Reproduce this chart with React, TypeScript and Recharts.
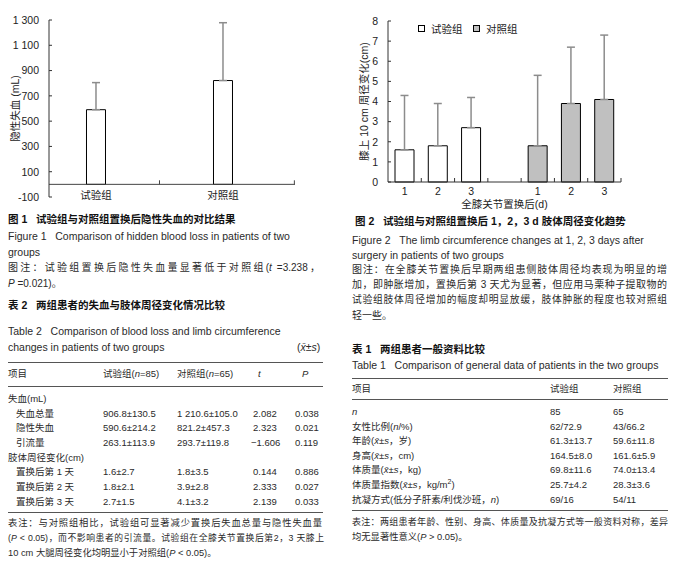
import React from 'react';
import { BarChart, Bar, XAxis, YAxis, ErrorBar, ReferenceLine, Cell, Legend } from 'recharts';

const FONT = '"Liberation Sans", Arial, "Noto Sans CJK SC", sans-serif';

// 图1 隐性失血
const fig1Groups = ['试验组', '对照组'];
const fig1Hidden = [590.6, 821.2];
const fig1Sd = [214.2, 457.3];
const fig1Ticks = [-100, 100, 300, 500, 700, 900, 1100, 1300];

// 图2 周径变化
const fig2Days = ['1', '2', '3'];
const fig2Test = [1.6, 1.8, 2.7];
const fig2TestSd = [2.7, 2.1, 1.5];
const fig2Ctrl = [1.8, 3.9, 4.1];
const fig2CtrlSd = [3.5, 2.8, 3.2];
const fig2Ticks = [0, 1, 2, 3, 4, 5, 6, 7, 8];
const fig2Legend = [
  { name: '试验组', fill: '#ffffff' },
  { name: '对照组', fill: '#c0c0c0' },
];

const fig1Data = fig1Groups.map((name, i) => ({
  pos: i + 1,
  name,
  value: fig1Hidden[i],
  err: [0, fig1Sd[i]],
}));

const fig2Data = [
  ...fig2Days.map((d, i) => ({ key: `t${d}`, day: d, value: fig2Test[i], err: [0, fig2TestSd[i]], group: 0 })),
  { key: 'gap', day: '', value: null, err: null, group: -1 },
  ...fig2Days.map((d, i) => ({ key: `c${d}`, day: d, value: fig2Ctrl[i], err: [0, fig2CtrlSd[i]], group: 1 })),
];

const fmtThousand = (v: number) =>
  Math.abs(v) >= 1000 ? `${Math.floor(v / 1000)} ${String(v % 1000).padStart(3, '0')}` : String(v);

const YTick = (props: any) => {
  const { x, y, payload, fmt } = props;
  return (
    <g>
      <line x1={x} x2={x + 3} y1={y} y2={y} stroke="#333" />
      <text x={x - 10} y={y} dy={3.8} textAnchor="end" fontSize={10.5} fill="#222" fontFamily={FONT}>
        {fmt ? fmt(payload.value) : payload.value}
      </text>
    </g>
  );
};

const Fig1XTick = (props: any) => {
  const { x, y, payload } = props;
  return (
    <text x={x} y={y} dy={2} textAnchor="middle" fontSize={10.5} fill="#222" fontFamily={FONT}>
      {fig1Groups[payload.value - 1]}
    </text>
  );
};

const FIG2_HALF_BAND = 233 / fig2Data.length / 2;
const Fig2XTick = (props: any) => {
  const { x, y, payload } = props;
  const row = fig2Data.find((r) => r.key === payload.value);
  return (
    <g>
      <line x1={x + FIG2_HALF_BAND} x2={x + FIG2_HALF_BAND} y1={y} y2={y - 4} stroke="#333" />
      <text x={x} y={y} dy={13} textAnchor="middle" fontSize={10.5} fill="#222" fontFamily={FONT}>
        {row ? row.day : ''}
      </text>
    </g>
  );
};

const Fig2LegendContent = () => (
  <div style={{ position: 'relative', height: 14, width: 120, fontSize: 10.5, fontFamily: FONT, color: '#222' }}>
    {fig2Legend.map((l, i) => (
      <div
        key={l.name}
        style={{ position: 'absolute', left: i * 55, top: 0, height: 14, display: 'flex', alignItems: 'center', whiteSpace: 'nowrap' }}
      >
        <span style={{ display: 'inline-block', width: 5, height: 5, border: '1px solid #000', background: l.fill, marginRight: 6 }} />
        {l.name}
      </div>
    ))}
  </div>
);

const Line = ({ x, y, w, size = 10.5, bold, justify, children }: any) => (
  <div
    style={{
      position: 'absolute',
      left: x,
      top: y - 7,
      width: w,
      height: 14,
      lineHeight: '14px',
      fontSize: size,
      fontWeight: bold ? 'bold' : 'normal',
      whiteSpace: justify ? 'normal' : 'nowrap',
      textAlign: justify ? 'justify' : 'left',
      textAlignLast: justify ? 'justify' : 'auto',
      color: bold ? '#111' : '#2a2a2a',
    }}
  >
    {children}
  </div>
);

const Rule = ({ x, y, w }: any) => (
  <div style={{ position: 'absolute', left: x, top: y, width: w, height: 0, borderTop: '1px solid #555' }} />
);

const xbar = <i>x&#772;</i>;

// 表2
const t2Cols = [103, 177, 253, 295];
const t2Rows: { label: string; indent: boolean; cells: string[] }[] = [
  { label: '失血(mL)', indent: false, cells: [] },
  { label: '失血总量', indent: true, cells: ['906.8±130.5', '1 210.6±105.0', '2.082', '0.038'] },
  { label: '隐性失血', indent: true, cells: ['590.6±214.2', '821.2±457.3', '2.323', '0.021'] },
  { label: '引流量', indent: true, cells: ['263.1±113.9', '293.7±119.8', '−1.606', '0.119'] },
  { label: '肢体周径变化(cm)', indent: false, cells: [] },
  { label: '置换后第 1 天', indent: true, cells: ['1.6±2.7', '1.8±3.5', '0.144', '0.886'] },
  { label: '置换后第 2 天', indent: true, cells: ['1.8±2.1', '3.9±2.8', '2.333', '0.027'] },
  { label: '置换后第 3 天', indent: true, cells: ['2.7±1.5', '4.1±3.2', '2.139', '0.033'] },
];
const t2RowY = [399, 413.5, 428, 443, 457.5, 472, 487, 501.5];

// 表1
const t1Cols = [550, 613];
const t1Rows: { label: React.ReactNode; cells: string[] }[] = [
  { label: <i>n</i>, cells: ['85', '65'] },
  { label: <>女性比例(<i>n</i>/%)</>, cells: ['62/72.9', '43/66.2'] },
  { label: <>年龄({xbar}±<i>s</i>，岁)</>, cells: ['61.3±13.7', '59.6±11.8'] },
  { label: <>身高({xbar}±<i>s</i>，cm)</>, cells: ['164.5±8.0', '161.6±5.9'] },
  { label: <>体质量({xbar}±<i>s</i>，kg)</>, cells: ['69.8±11.6', '74.0±13.4'] },
  { label: <>体质量指数({xbar}±<i>s</i>，kg/m<sup style={{ fontSize: 7, lineHeight: 0 }}>2</sup>)</>, cells: ['25.7±4.2', '28.3±3.6'] },
  { label: <>抗凝方式(低分子肝素/利伐沙班，<i>n</i>)</>, cells: ['69/16', '54/11'] },
];
const t1RowY = [412, 427, 441, 456, 470, 485, 500];

export default function App() {
  return (
    <div
      style={{
        position: 'absolute',
        left: 0,
        top: 0,
        width: 685,
        height: 568,
        background: '#fff',
        fontFamily: FONT,
        overflow: 'hidden',
      }}
    >
      {/* 图1 */}
      <div style={{ position: 'absolute', left: 0, top: 0 }}>
        <BarChart width={340} height={227} data={fig1Data} margin={{ top: 20, right: 45, left: 0, bottom: 0 }}>
          <XAxis
            type="number"
            dataKey="pos"
            domain={[0.63, 2.567]}
            allowDataOverflow
            ticks={[1, 2]}
            axisLine={false}
            tickLine={false}
            tickSize={0}
            tickMargin={0}
            interval={0}
            tick={<Fig1XTick />}
            height={30}
          />
          <YAxis
            type="number"
            domain={[-100, 1300]}
            ticks={fig1Ticks}
            interval={0}
            width={49}
            axisLine={{ stroke: '#333' }}
            tickLine={false}
            tickSize={0}
            tickMargin={0}
            tick={<YTick fmt={fmtThousand} />}
            label={{
              value: '隐性失血 (mL)',
              angle: -90,
              position: 'insideLeft',
              offset: 15,
              style: { textAnchor: 'middle', fontSize: 10.5, fill: '#222', fontFamily: FONT },
            }}
          />
          <ReferenceLine y={0} stroke="#444" />
          <ReferenceLine segment={[{ x: 1.5, y: 0 }, { x: 1.5, y: 32 }]} stroke="#444" />
          <ReferenceLine segment={[{ x: 2.562, y: 0 }, { x: 2.562, y: 32 }]} stroke="#444" />
          <Bar dataKey="value" barSize={19} fill="#fff" stroke="#000" strokeWidth={1} isAnimationActive={false}>
            <ErrorBar dataKey="err" direction="y" width={4} stroke="#8c8c8c" strokeWidth={1.5} />
          </Bar>
        </BarChart>
      </div>

      {/* 图2 */}
      <div style={{ position: 'absolute', left: 340, top: 0 }}>
        <BarChart width={345} height={212} data={fig2Data} margin={{ top: 21, right: 64, left: 0, bottom: 0 }}>
          <XAxis
            dataKey="key"
            interval={0}
            axisLine={{ stroke: '#333' }}
            tickLine={false}
            tickSize={0}
            tickMargin={0}
            tick={<Fig2XTick />}
            height={30}
            label={{
              value: '全膝关节置换后(d)',
              position: 'insideBottom',
              offset: 4,
              style: { fontSize: 10.5, fill: '#222', fontFamily: FONT },
            }}
          />
          <YAxis
            type="number"
            domain={[0, 8]}
            ticks={fig2Ticks}
            interval={0}
            width={48}
            axisLine={{ stroke: '#333' }}
            tickLine={false}
            tickSize={0}
            tickMargin={0}
            tick={<YTick />}
            label={{
              value: '膝上 10 cm 周径变化(cm)',
              angle: -90,
              position: 'insideLeft',
              offset: 24,
              style: { textAnchor: 'middle', fontSize: 10.5, fill: '#222', fontFamily: FONT },
            }}
          />
          <Legend
            layout="horizontal"
            verticalAlign="middle"
            align="center"
            wrapperStyle={{ left: 78, top: 21, width: 130, height: 14 }}
            content={() => <Fig2LegendContent />}
          />
          <Bar dataKey="value" name="周径变化" barSize={19} stroke="#000" strokeWidth={1} isAnimationActive={false}>
            {fig2Data.map((r) => (
              <Cell key={r.key} fill={r.group === 1 ? fig2Legend[1].fill : fig2Legend[0].fill} />
            ))}
            <ErrorBar dataKey="err" direction="y" width={4} stroke="#8c8c8c" strokeWidth={1.5} />
          </Bar>
        </BarChart>
      </div>

      {/* 左栏文字 */}
      <Line x={8} y={219} size={10.5} bold>图 1&nbsp;&nbsp;&nbsp;试验组与对照组置换后隐性失血的对比结果</Line>
      <Line x={8} y={236}>Figure 1&nbsp;&nbsp;&nbsp;Comparison of hidden blood loss in patients of two</Line>
      <Line x={8} y={252}>groups</Line>
      <Line x={8} y={268} w={312} size={10} justify>图注：试验组置换后隐性失血量显著低于对照组(<i>t</i> =3.238，</Line>
      <Line x={8} y={284} size={10}><i>P</i> =0.021)。</Line>

      <Line x={8} y={305} size={10.5} bold>表 2&nbsp;&nbsp;&nbsp;两组患者的失血与肢体周径变化情况比较</Line>
      <Line x={8} y={331}>Table 2&nbsp;&nbsp;&nbsp;Comparison of blood loss and limb circumference</Line>
      <Line x={8} y={347}>changes in patients of two groups</Line>
      <Line x={297} y={347}>({xbar}±<i>s</i>)</Line>
      <Rule x={8} y={362} w={315} />
      <Line x={8} y={374} size={9.5}>项目</Line>
      <Line x={t2Cols[0]} y={374} size={9.5}>试验组(<i>n</i>=85)</Line>
      <Line x={t2Cols[1]} y={374} size={9.5}>对照组(<i>n</i>=65)</Line>
      <Line x={258} y={374} size={9.5}><i>t</i></Line>
      <Line x={302} y={374} size={9.5}><i>P</i></Line>
      <Rule x={8} y={386} w={315} />
      {t2Rows.map((r, i) => (
        <React.Fragment key={r.label}>
          <Line x={r.indent ? 16 : 8} y={t2RowY[i]} size={9.5}>{r.label}</Line>
          {r.cells.map((c, j) => (
            <Line key={j} x={t2Cols[j] - (c.startsWith('−') ? 2 : 0)} y={t2RowY[i]} size={9.5}>{c}</Line>
          ))}
        </React.Fragment>
      ))}
      <Rule x={8} y={512} w={315} />
      <Line x={8} y={523} w={314} size={9.3} justify>表注：与对照组相比，试验组可显著减少置换后失血总量与隐性失血量</Line>
      <Line x={8} y={538} w={316} size={8.8} justify>(<i>P</i> &lt; 0.05)，而不影响患者的引流量。试验组在全膝关节置换后第2，3 天膝上</Line>
      <Line x={8} y={553} size={9.3}>10 cm 大腿周径变化均明显小于对照组(<i>P</i> &lt; 0.05)。</Line>

      {/* 右栏文字 */}
      <Line x={355} y={221} size={10.5} bold>图 2&nbsp;&nbsp;&nbsp;试验组与对照组置换后 1，2，3 d 肢体周径变化趋势</Line>
      <Line x={352} y={240}>Figure 2&nbsp;&nbsp;&nbsp;The limb circumference changes at 1, 2, 3 days after</Line>
      <Line x={352} y={255}>surgery in patients of two groups</Line>
      <Line x={352} y={270} w={315} size={10} justify>图注：在全膝关节置换后早期两组患侧肢体周径均表现为明显的增</Line>
      <Line x={352} y={285} w={315} size={10} justify>加，即肿胀增加，置换后第 3 天尤为显著，但应用马栗种子提取物的</Line>
      <Line x={352} y={300} w={315} size={9.8} justify>试验组肢体周径增加的幅度却明显放缓，肢体肿胀的程度也较对照组</Line>
      <Line x={352} y={316} size={10}>轻一些。</Line>

      <Line x={352} y={349} size={10.5} bold>表 1&nbsp;&nbsp;&nbsp;两组患者一般资料比较</Line>
      <Line x={352} y={365}>Table 1&nbsp;&nbsp;&nbsp;Comparison of general data of patients in the two groups</Line>
      <Rule x={352} y={378} w={316} />
      <Line x={352} y={389} size={9.5}>项目</Line>
      <Line x={t1Cols[0]} y={389} size={9.5}>试验组</Line>
      <Line x={t1Cols[1]} y={389} size={9.5}>对照组</Line>
      <Rule x={352} y={399} w={316} />
      {t1Rows.map((r, i) => (
        <React.Fragment key={i}>
          <Line x={352} y={t1RowY[i]} size={9.5}>{r.label}</Line>
          {r.cells.map((c, j) => (
            <Line key={j} x={t1Cols[j]} y={t1RowY[i]} size={9.5}>{c}</Line>
          ))}
        </React.Fragment>
      ))}
      <Rule x={352} y={510} w={316} />
      <Line x={352} y={522} w={316} size={9} justify>表注：两组患者年龄、性别、身高、体质量及抗凝方式等一般资料对称，差异</Line>
      <Line x={352} y={537} size={9.3}>均无显著性意义(<i>P</i> &gt; 0.05)。</Line>
    </div>
  );
}
